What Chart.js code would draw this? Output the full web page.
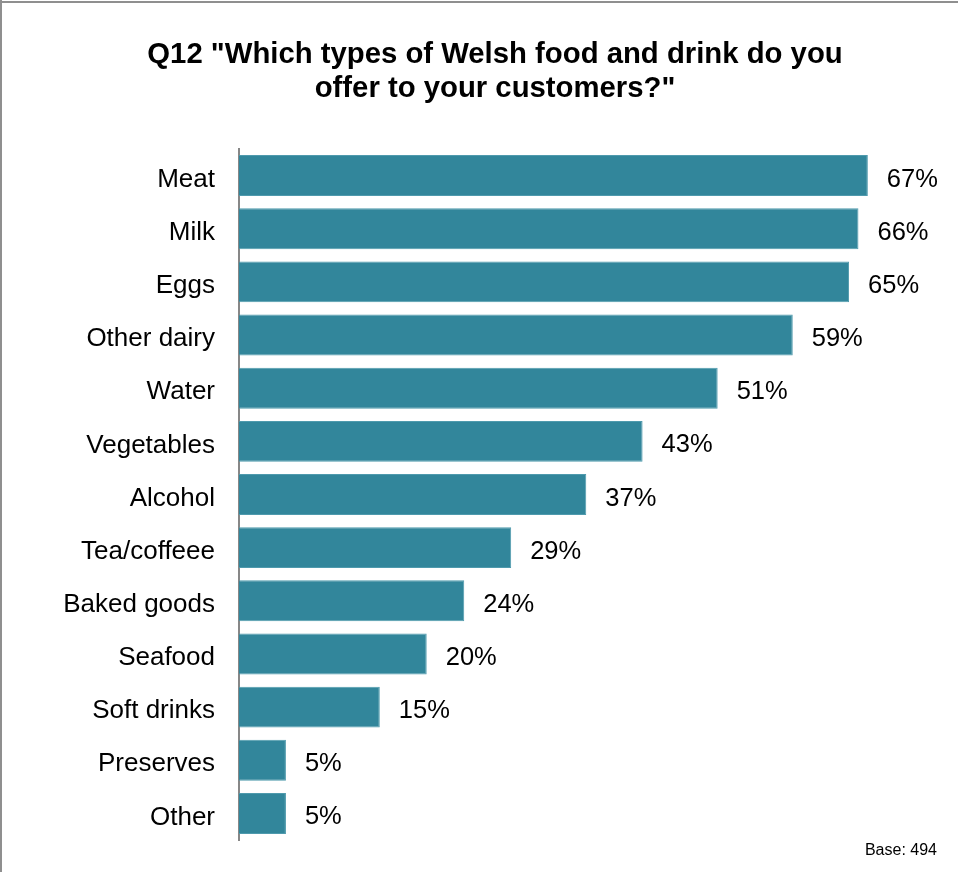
<!DOCTYPE html>
<html>
<head>
<meta charset="utf-8">
<script src="https://cdn.jsdelivr.net/npm/chart.js@4"></script>
<style>
  html, body { margin: 0; padding: 0; background: #fff; overflow: hidden; }
  canvas { display: block; }
</style>
</head>
<body>
<canvas id="chart" width="958" height="872"></canvas>
<script>
// Share of respondents offering each type of Welsh food and drink (%)
const categories = ['Meat', 'Milk', 'Eggs', 'Other dairy', 'Water', 'Vegetables', 'Alcohol',
  'Tea/coffeee', 'Baked goods', 'Seafood', 'Soft drinks', 'Preserves', 'Other'];
const shares = [67, 66, 65, 59, 51, 43, 37, 29, 24, 20, 15, 5, 5];
const titleLines = ['Q12 "Which types of Welsh food and drink do you', 'offer to your customers?"'];
const baseNote = 'Base: 494';

const FONT = '"Liberation Sans", Arial, sans-serif';

// White background, frame lines on the top and left edges, and the two-line title
const framePlugin = {
  id: 'frame',
  beforeDraw(chart) {
    const ctx = chart.ctx;
    ctx.save();
    ctx.fillStyle = '#fff';
    ctx.fillRect(0, 0, chart.width, chart.height);
    ctx.fillStyle = '#8f8f8f';
    ctx.fillRect(0, 1, chart.width, 2);
    ctx.fillRect(0, 0, 2, chart.height);
    ctx.fillStyle = '#000';
    ctx.font = 'bold 29.3px ' + FONT;
    ctx.textAlign = 'center';
    ctx.textBaseline = 'alphabetic';
    titleLines.forEach((line, i) => ctx.fillText(line, 495, 63 + i * 34));
    ctx.restore();
  }
};

// Percentage labels to the right of each bar, plus the base note
const valueLabels = {
  id: 'valueLabels',
  afterDatasetsDraw(chart) {
    const ctx = chart.ctx;
    const meta = chart.getDatasetMeta(0);
    ctx.save();
    ctx.font = '25.5px ' + FONT;
    ctx.fillStyle = '#000';
    ctx.textAlign = 'left';
    ctx.textBaseline = 'middle';
    meta.data.forEach((bar, i) => {
      ctx.fillText(shares[i] + '%', bar.x + 19, bar.y + 4);
    });
    ctx.font = '16px ' + FONT;
    ctx.textAlign = 'right';
    ctx.textBaseline = 'alphabetic';
    ctx.fillText(baseNote, 937, 855);
    ctx.restore();
  }
};

new Chart(document.getElementById('chart'), {
  type: 'bar',
  data: {
    labels: categories,
    datasets: [{
      data: shares,
      backgroundColor: '#32869B',
      borderColor: '#4f9aad',
      borderWidth: 1,
      categoryPercentage: 1,
      barPercentage: 0.77
    }]
  },
  options: {
    indexAxis: 'y',
    responsive: false,
    animation: false,
    layout: { padding: { left: 0, right: 62, top: 149, bottom: 32 } },
    plugins: {
      legend: { display: false },
      tooltip: { enabled: false },
      title: { display: false }
    },
    scales: {
      x: {
        display: false,
        min: 0,
        max: 70
      },
      y: {
        afterFit(scale) {
          // fixed label column; the layout padding alone sets the plot's top and bottom
          scale.width = 239;
          scale.paddingTop = 0;
          scale.paddingBottom = 0;
        },
        grid: { display: false, drawTicks: false, tickLength: 0 },
        border: { display: true, color: '#878787', width: 2 },
        ticks: {
          color: '#000',
          padding: 24,
          labelOffset: 4,
          font: { family: FONT, size: 26 }
        }
      }
    }
  },
  plugins: [framePlugin, valueLabels]
});
</script>
</body>
</html>
